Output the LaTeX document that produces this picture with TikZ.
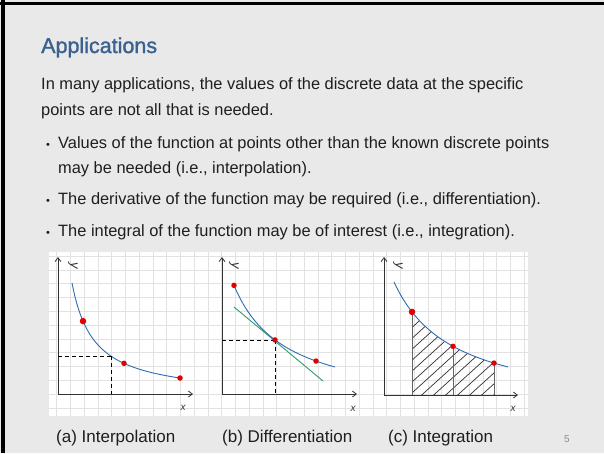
\documentclass[tikz,border=0pt]{standalone}
\usepackage{fontspec}
\setmainfont{Liberation Sans}
\newfontfamily\ttlfont[FakeBold=1.4]{Liberation Sans}
\usetikzlibrary{arrows.meta}
\definecolor{bg}{HTML}{E9E9E9}
\definecolor{txt}{HTML}{1E1E1E}
\definecolor{ttl}{HTML}{3A6190}
\definecolor{gridc}{HTML}{E2E2E2}
\definecolor{curvec}{HTML}{2F6DB0}
\definecolor{tanc}{HTML}{2E9A6A}
\definecolor{dotc}{HTML}{E00000}
\definecolor{axc}{HTML}{333333}
\tikzset{
  body/.style={anchor=base west, inner sep=0pt, text=txt, font=\fontsize{16.4}{19}\selectfont},
  ttlstyle/.style={anchor=base west, inner sep=0pt, text=ttl, font=\ttlfont\fontsize{21.5}{24}\selectfont},
  bul/.style={anchor=base west, inner sep=0pt, text=txt, font=\fontsize{11}{13}\selectfont},
  captext/.style={anchor=base west, inner sep=0pt, text=txt, font=\fontsize{17}{19}\selectfont},
  axis/.style={draw=axc, line width=0.8pt, -{Straight Barb[length=4pt,width=6pt]}},
  curvestyle/.style={draw=curvec, line width=0.9pt},
  dashln/.style={draw=black, line width=0.8pt, dash pattern=on 4pt off 3pt},
  reddot/.style={circle, fill=dotc, inner sep=0pt, minimum size=5.5pt},
  ylab/.style={inner sep=0pt, rotate=-90, text=axc, font=\fontsize{13}{14}\selectfont\itshape},
  xlab/.style={inner sep=0pt, text=axc, font=\fontsize{10}{12}\selectfont\itshape},
  stripe/.style={draw=axc, line width=0.7pt},
  vline/.style={draw=black!60, line width=1pt}
}
\begin{document}
\begin{tikzpicture}[x=1pt,y=-1pt]
\useasboundingbox (0,0) rectangle (604,453);
\fill[bg] (0,0) rectangle (604,453);
\fill[black] (0,1.5) rectangle (604,5);
\fill[black] (1,0) rectangle (5,453);

% texts
\node[ttlstyle] (title) at (41,53) {Applications};
\node[body] (l1) at (41,89.5) {In many applications, the values of the discrete data at the specific};
\node[body] (l2) at (41,115) {points are not all that is needed.};
\node[bul] (b1) at (46,148) {•};
\node[body] (t1) at (58,148) {Values of the function at points other than the known discrete points};
\node[body] (t1b) at (58,173) {may be needed (i.e., interpolation).};
\node[bul] (b2) at (46,204) {•};
\node[body] (t2) at (58,204) {The derivative of the function may be required (i.e., differentiation).};
\node[bul] (b3) at (46,236) {•};
\node[body] (t3) at (58,236) {The integral of the function may be of interest (i.e., integration).};

% panel
\fill[white] (49,252) rectangle (528,416);
\begin{scope}
\clip (49,252) rectangle (528,416);
\foreach \k in {0,...,35} {
  \draw[gridc, line width=0.6pt] ({56.7+13.75*(\k-1)},252) -- ({56.7+13.75*(\k-1)},416);
}
\foreach \k in {0,...,12} {
  \draw[gridc, line width=0.6pt] (49,{256+13.8*\k}) -- (528,{256+13.8*\k});
}
\end{scope}

% ---------- (a) interpolation
\coordinate (oa) at (58,394);
\coordinate (ya) at (58,257);
\coordinate (xa) at (193,394);
\draw[axis] (oa) -- (ya);
\draw[axis] (oa) -- (xa);
\node[ylab] (yla) at (73,266) {y};
\node[xlab] (xla) at (183,408) {x};
\draw[curvestyle] plot[domain=72:180, samples=80] (\x, {394 - (2516/(\x-50) - 3.35)});
\coordinate (pa) at (111,{394-(2516/61-3.35)});
\coordinate (pa0) at (58,{394-(2516/61-3.35)});
\coordinate (pa1) at (111,394);
\draw[dashln] (pa0) -- (pa);
\draw[dashln] (pa) -- (pa1);
\node[reddot, minimum size=6.5pt] (a1) at (83,{394-(2516/33-3.35)}) {};
\node[reddot] (a2) at (124,{394-(2516/74-3.35)}) {};
\node[reddot] (a3) at (180,{394-(2516/130-3.35)}) {};

% ---------- (b) differentiation
\coordinate (ob) at (222,394);
\coordinate (yb) at (222,257);
\coordinate (xb) at (357,394);
\draw[axis] (ob) -- (yb);
\draw[axis] (ob) -- (xb);
\node[ylab] (ylb) at (234,266) {y};
\node[xlab] (xlb) at (353,409) {x};
\coordinate (t0) at (234,307);
\coordinate (t1e) at (323,381);
\draw[draw=tanc, line width=0.9pt] (t0) -- (t1e);
\draw[curvestyle] plot[domain=233:335, samples=80] (\x, {394 - (6427/(\x-182) - 15)});
\coordinate (pb) at (275,{394-(6427/93-15)});
\coordinate (pb0) at (222,{394-(6427/93-15)});
\coordinate (pb1) at (275,394);
\draw[dashln] (pb0) -- (pb);
\draw[dashln] (pb) -- (pb1);
\node[reddot] (b1d) at (234,{394-(6427/52-15)}) {};
\node[reddot] (b2d) at (pb) {};
\node[reddot] (b3d) at (316,{394-(6427/134-15)}) {};

% ---------- (c) integration
\coordinate (oc) at (384,395);
\coordinate (yc) at (384,257);
\coordinate (xc) at (518,395);
\begin{scope}
\clip (412,395) -- plot[domain=412:494, samples=60] (\x, {395 - (7784/(\x-334) - 16.7)}) -- (494,395) -- cycle;
\foreach \k in {0,...,16} {
  \draw[stripe] ({330+12*\k},402) -- ++(110,-100);
}
\end{scope}
\draw[axis] (oc) -- (yc);
\draw[axis] (oc) -- (xc);
\node[ylab] (ylc) at (398,266) {y};
\node[xlab] (xlc) at (513,409) {x};
\draw[curvestyle] plot[domain=394:508, samples=80] (\x, {395 - (7784/(\x-334) - 16.7)});
\coordinate (c1) at (412,{395-(7784/78-16.7)});
\coordinate (c2) at (453,{395-(7784/119-16.7)});
\coordinate (c3) at (494,{395-(7784/160-16.7)});
\coordinate (c1b) at (412,395);
\coordinate (c2b) at (453,395);
\coordinate (c3b) at (494,395);
\draw[vline] (c1) -- (c1b);
\draw[vline] (c2) -- (c2b);
\draw[vline] (c3) -- (c3b);
\node[reddot, minimum size=6.5pt] (c1d) at (c1) {};
\node[reddot] (c2d) at (c2) {};
\node[reddot] (c3d) at (c3) {};

% captions
\node[captext] (capa) at (56,442) {(a) Interpolation};
\node[captext] (capb) at (222,442) {(b) Differentiation};
\node[captext] (capc) at (388,442) {(c) Integration};
\node[anchor=base, inner sep=0pt, text=black!45, font=\fontsize{10}{12}\selectfont] (pg) at (567,442) {5};
\end{tikzpicture}
\end{document}
